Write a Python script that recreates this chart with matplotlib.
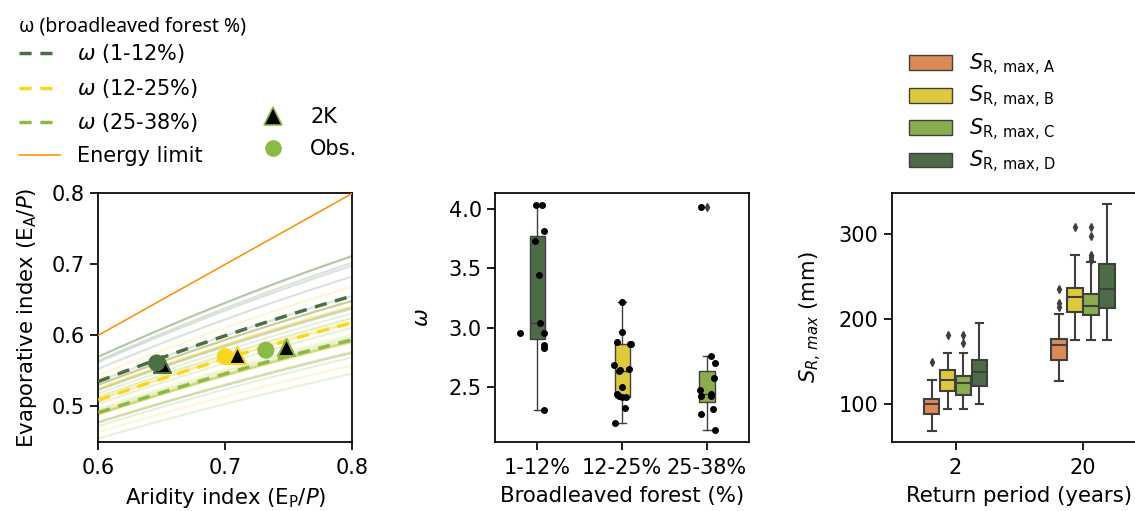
import numpy as np
import matplotlib
matplotlib.use("Agg")
import matplotlib.pyplot as plt
from matplotlib.lines import Line2D
from matplotlib.patches import Patch

# ── Data ──────────────────────────────────────────────────────────────────────
forest_classes = ["1-12%", "12-25%", "25-38%"]

# catchment omega values per broadleaved-forest class
omega_low = [4.034, 4.034, 3.81, 3.724, 3.44, 3.04, 2.954, 2.954, 2.85, 2.83, 2.308]
omega_mid = [3.218, 2.964, 2.875, 2.858, 2.86, 2.685, 2.651, 2.635, 2.64, 2.50,
             2.443, 2.42, 2.415, 2.415, 2.32, 2.20]
omega_high = [4.017, 2.762, 2.70, 2.576, 2.472, 2.421, 2.421, 2.44, 2.317, 2.269, 2.134]

# horizontal jitter of the strip points
jitter_low = [-0.012, 0.05, 0.083, -0.024, 0.02, 0.027, -0.2, 0.083, 0.083, 0.083, 0.083]
jitter_mid = [0.0, 0.0, -0.064, 0.10, 0.09, -0.095, 0.075, -0.032, -0.02, 0.0,
              -0.064, -0.04, 0.0, 0.04, 0.03, -0.08]
jitter_high = [-0.067, 0.043, 0.09, 0.079, -0.083, -0.067, 0.043, 0.051, 0.075, -0.075, 0.095]

# observed and +2K points in Budyko space (aridity, evaporative index)
obs_aridity = [0.646, 0.700, 0.732]
obs_evap = [0.561, 0.570, 0.579]
k2_aridity = [0.650, 0.709, 0.748]
k2_evap = [0.559, 0.572, 0.583]

# S_R,max summary statistics, one row per series (A-D), one column per return period
return_periods = ["2", "20"]
sr_series = ["A", "B", "C", "D"]
sr_med = [[100, 170], [128, 226], [125, 216], [138, 236]]
sr_q1 = [[89, 152], [116, 208], [111, 205], [122, 213]]
sr_q3 = [[106, 177], [140, 237], [133, 230], [152, 265]]
sr_lo = [[69, 127], [95, 175], [95, 175], [100, 175]]
sr_hi = [[129, 206], [160, 276], [160, 267], [195, 335]]
sr_fliers = [[[150], [214, 219, 236]],
             [[182], [309]],
             [[172, 182], [270, 273, 275, 298, 309]],
             [[], []]]

# ── Style ─────────────────────────────────────────────────────────────────────
line_colors = ["#4a7043", "#f8d81f", "#8bbb45"]
box_colors = ["#4d6b47", "#dec83c", "#8bac4f"]
sr_colors = ["#dc8b57", "#dec83c", "#8bac4f", "#4d6b47"]
edge_gray = "#3f3f3f"

plt.rcParams.update({
    "font.family": "DejaVu Sans",
    "font.size": 15,
    "axes.labelsize": 15.3,
    "xtick.labelsize": 15,
    "ytick.labelsize": 15,
    "axes.linewidth": 1.25,
    "xtick.major.width": 1.25,
    "ytick.major.width": 1.25,
    "xtick.major.size": 6,
    "ytick.major.size": 6,
    "xtick.major.pad": 5.5,
})


def fu_curve(phi, w):
    """Fu's Budyko curve: E_A/P as a function of aridity and omega."""
    return 1 + phi - (1 + phi ** w) ** (1 / w)


fig = plt.figure(figsize=(11.35, 5.11), dpi=100)
ax1 = fig.add_axes([0.0866, 0.1356, 0.2238, 0.486])
ax2 = fig.add_axes([0.4361, 0.1356, 0.2241, 0.486])
ax3 = fig.add_axes([0.7857, 0.1356, 0.2247, 0.486])

groups = [omega_low, omega_mid, omega_high]
jitters = [jitter_low, jitter_mid, jitter_high]

# ── Panel 1: Budyko space ────────────────────────────────────────────────────
phi = np.linspace(0.6, 0.8, 100)
for g, color in zip(groups, line_colors):
    for w in g:
        ax1.plot(phi, fu_curve(phi, w), color=color, alpha=0.2, lw=1.5, zorder=1)

for i, (g, color) in enumerate(zip(groups, line_colors)):
    ax1.plot(phi, fu_curve(phi, np.median(g)), color=color, lw=2.5,
             ls=(0, (3.5, 2.5)), zorder=3)
ax1.plot(phi, phi, color="#ff8c00", lw=1.1, zorder=3)

obs_z = [6, 4, 4]
for i, color in enumerate(line_colors):
    ax1.scatter(obs_aridity[i], obs_evap[i], s=150, color=color, zorder=obs_z[i],
                edgecolors="none")
    ax1.scatter(k2_aridity[i], k2_evap[i], s=150, marker="^", color="black",
                edgecolors=color, linewidths=1.5, zorder=5)

ax1.set_xlim(0.6, 0.8)
ax1.set_ylim(0.45, 0.8)
ax1.set_xticks([0.6, 0.7, 0.8])
ax1.set_yticks([0.5, 0.6, 0.7, 0.8])
ax1.set_xlabel(r"Aridity index (E$_\mathrm{P}$/$P$)", labelpad=6)
ax1.set_ylabel(r"Evaporative index (E$_\mathrm{A}$/$P$)", labelpad=9)

# ── Panel 2: omega by broadleaved forest class ───────────────────────────────
bp = ax2.boxplot(groups, positions=range(len(groups)), widths=0.18,
                 patch_artist=True, whis=1.5,
                 boxprops=dict(edgecolor=edge_gray, linewidth=1),
                 medianprops=dict(color=edge_gray, linewidth=1),
                 whiskerprops=dict(color=edge_gray, linewidth=1),
                 capprops=dict(color=edge_gray, linewidth=1),
                 flierprops=dict(marker="d", markersize=4, markerfacecolor=edge_gray,
                                 markeredgecolor=edge_gray))
for patch, color in zip(bp["boxes"], box_colors):
    patch.set_facecolor(color)
for i, (g, jit) in enumerate(zip(groups, jitters)):
    ax2.scatter(np.array(jit) + i, g, s=16, color="black", zorder=4)

ax2.set_xlim(-0.5, 2.5)
ax2.set_xticks(range(len(forest_classes)))
ax2.set_xticklabels(forest_classes)
ax2.set_yticks([2.5, 3.0, 3.5, 4.0])
ax2.set_xlabel("Broadleaved forest (%)", labelpad=6)
ax2.set_ylabel(r"$\omega$", labelpad=12)

# ── Panel 3: S_R,max by return period ────────────────────────────────────────
n_series = len(sr_series)
slot = 0.5 / n_series
for s in range(n_series):
    offset = (s - (n_series - 1) / 2) * slot
    stats = []
    for p in range(len(return_periods)):
        stats.append(dict(med=sr_med[s][p], q1=sr_q1[s][p], q3=sr_q3[s][p],
                          whislo=sr_lo[s][p], whishi=sr_hi[s][p],
                          fliers=sr_fliers[s][p]))
    ax3.bxp(stats, positions=np.arange(len(return_periods)) + offset,
            widths=slot * 0.98, patch_artist=True,
            boxprops=dict(facecolor=sr_colors[s], edgecolor=edge_gray, linewidth=1.5),
            medianprops=dict(color=edge_gray, linewidth=1.5),
            whiskerprops=dict(color=edge_gray, linewidth=1.5),
            capprops=dict(color=edge_gray, linewidth=1.5),
            flierprops=dict(marker="d", markersize=4, markerfacecolor=edge_gray,
                            markeredgecolor=edge_gray))

ax3.set_xlim(-0.5, 1.5)
ax3.set_xticks(range(len(return_periods)))
ax3.set_xticklabels(return_periods)
ax3.set_ylim(56, 348)
ax3.set_yticks([100, 200, 300])
ax3.set_xlabel("Return period (years)", labelpad=6)
ax3.set_ylabel(r"$S_{R,\,max}$ (mm)", labelpad=11)

# ── Legends ───────────────────────────────────────────────────────────────────
handles = [Line2D([], [], color=c, lw=2.5, ls=(0, (3.5, 2.5))) for c in line_colors]
handles.append(Line2D([], [], color="#ff8c00", lw=1.1))
handles += [Line2D([], [], ls="none"), Line2D([], [], ls="none"),
            Line2D([], [], ls="none", marker="^", markersize=13, color="black",
                   markeredgecolor=line_colors[2], markeredgewidth=1.2),
            Line2D([], [], ls="none", marker="o", markersize=12, color=line_colors[2],
                   markeredgecolor="none")]
labels = [rf"$\omega$ ({c})" for c in forest_classes] + ["Energy limit", "", "", "2K", "Obs."]
leg = fig.legend(handles, labels, loc="upper left", bbox_to_anchor=(0.0, 1.005), ncol=2,
                 frameon=False, fontsize=15, title="ω (broadleaved forest %)",
                 title_fontproperties={"family": "Noto Sans", "size": 14},
                 alignment="left", labelspacing=0.55, columnspacing=2.35)
leg._legend_box.sep = 4.5   # tighter gap between title and entries

sr_handles = [Patch(facecolor=c, edgecolor=edge_gray, linewidth=1) for c in sr_colors]
sr_labels = [rf"$S_\mathrm{{R,\,max,\,{s}}}$" for s in sr_series]
fig.legend(sr_handles, sr_labels, loc="upper left", bbox_to_anchor=(0.784, 0.936),
           frameon=False, fontsize=15, labelspacing=0.3, handlelength=2.1)

fig.savefig("out.png", dpi=100)
